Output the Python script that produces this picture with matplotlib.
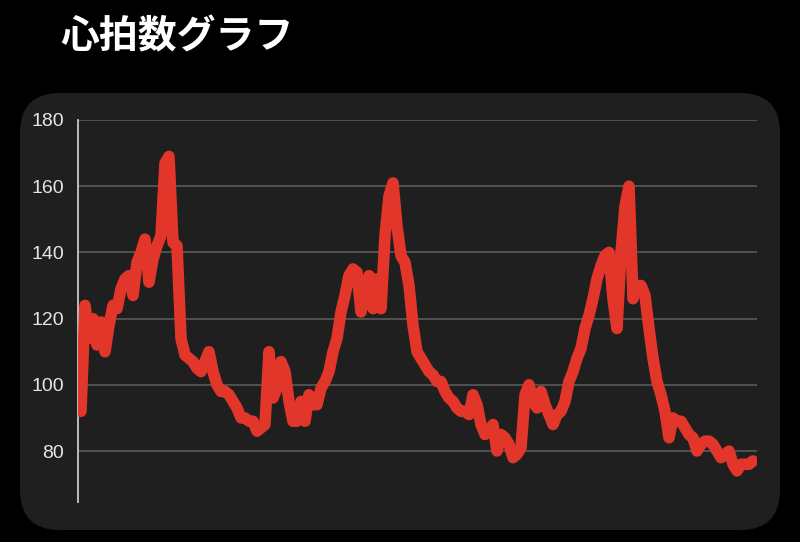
import matplotlib
matplotlib.use("Agg")
import matplotlib.pyplot as plt
from matplotlib.patches import FancyBboxPatch
from matplotlib.transforms import IdentityTransform

title = "心拍数グラフ"
y_ticks = [80, 100, 120, 140, 160, 180]

heart_rate = [
    92, 124, 114, 120, 112, 119, 110, 118, 124, 123,
    129, 132, 133, 127, 137, 140, 144, 131, 138, 142,
    145, 167, 169, 143, 142, 114, 109, 108, 107, 105,
    104, 107, 110, 104, 100, 98, 98, 97, 95, 93,
    90, 90, 89, 89, 86, 87, 88, 110, 96, 99,
    107, 104, 95, 89, 89, 95, 89, 97, 94, 94,
    99, 101, 104, 110, 114, 122, 127, 133, 135, 134,
    122, 128, 133, 123, 132, 123, 145, 157, 161, 148,
    139, 137, 130, 118, 110, 108, 106, 104, 103, 101,
    101, 98, 96, 95, 93, 92, 92, 91, 97, 94,
    88, 85, 86, 88, 80, 85, 84, 82, 78, 79,
    81, 97, 100, 95, 93, 98, 94, 91, 88, 91,
    92, 95, 101, 104, 108, 111, 117, 121, 126, 132,
    136, 139, 140, 126, 117, 140, 154, 160, 126, 130,
    130, 127, 117, 108, 101, 97, 92, 84, 90, 89,
    89, 87, 85, 84, 80, 82, 83, 83, 82, 80,
    78, 79, 80, 76, 74, 76, 76, 76, 77,
]

W, H = 800, 542
fig = plt.figure(figsize=(W / 100, H / 100), dpi=100, facecolor="black")

# rounded dark panel
panel = FancyBboxPatch((20, H - 530), 760, 437,
                       boxstyle="round,pad=0,rounding_size=40",
                       transform=IdentityTransform(),
                       facecolor="#1f1f1f", edgecolor="none", zorder=-5)
fig.patches.append(panel)

fig.text(60 / W, 1 - 37 / H, title, color="white", fontsize=28,
         fontweight="bold", va="center", ha="left",
         family=["Noto Sans CJK JP", "DejaVu Sans"])

ax = fig.add_axes([78 / W, 1 - 502 / H, (757 - 78) / W, (502 - 120) / H])
ax.set_zorder(2)
ax.set_facecolor("none")
x = list(range(len(heart_rate)))
ax.plot(x, heart_rate, color="#e3362a", lw=8.3, solid_joinstyle="round",
        solid_capstyle="round", zorder=3)

ax.set_xlim(-0.75, 169.0)
ax.set_ylim(64.6, 180)
ax.set_yticks(y_ticks)
ax.set_yticklabels([str(t) for t in y_ticks])
ax.set_xticks([])
for t in y_ticks:
    ax.axhline(t, color="#5e5e5e", lw=1.1, zorder=1)

for s in ["top", "right", "bottom"]:
    ax.spines[s].set_visible(False)
ax.spines["left"].set_color("#c8c8c8")
ax.spines["left"].set_linewidth(1.3)
ax.tick_params(axis="y", length=0, pad=10, labelsize=14, labelcolor="#e6e6e6")
for lab in ax.get_yticklabels():
    lab.set_family(["Liberation Sans", "DejaVu Sans"])

fig.savefig("out.png", dpi=100, facecolor="black")
